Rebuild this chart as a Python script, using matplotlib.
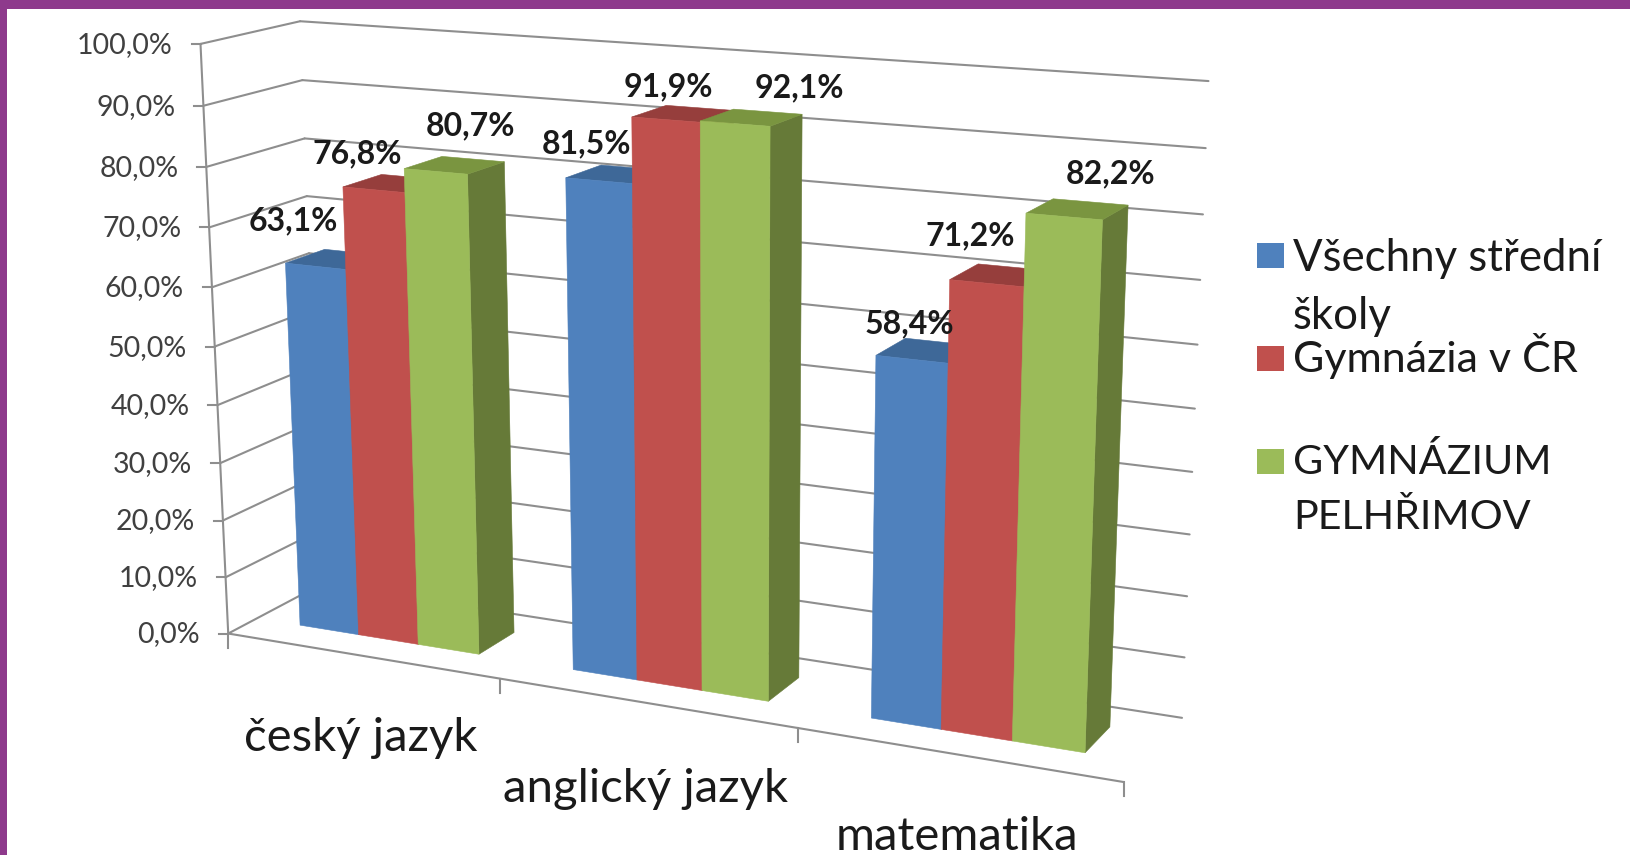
import numpy as np
import matplotlib
matplotlib.use("Agg")
import matplotlib.pyplot as plt
from matplotlib.patches import Polygon, Rectangle

plt.rcParams['font.family'] = ['Lato', 'DejaVu Sans']

categories = ["český jazyk", "anglický jazyk", "matematika"]
series = ["Všechny střední\nškoly", "Gymnázia v ČR", "GYMNÁZIUM\nPELHŘIMOV"]
vsechny = [63.1, 81.5, 58.4]
gymnazia = [76.8, 91.9, 71.2]
pelhrimov = [80.7, 92.1, 82.2]
value_ticks = [0, 10, 20, 30, 40, 50, 60, 70, 80, 90, 100]

front_cols = ["#4F81BD", "#C0504D", "#9BBB59"]
top_cols = ["#3E6898", "#963E3C", "#7A9540"]
side_cols = ["#3A5F8C", "#8C3A38", "#667A38"]
grid_col = "#8E8E8E"
W, H = 1631, 855

# camera fit: world (category, depth, value) -> picture pixels
world = [(0, 0, 0), (0, 0, 100), (0, 1, 100), (0, 1, 0), (3, 1, 100),
         (3, 1, 0), (3, 0, 0), (1, 0, 0), (2, 0, 0), (3, 1, 50)]
pixels = [(228, 633), (201, 44), (300, 21), (322, 583), (1208, 80),
          (1182, 718), (1125, 780), (500, 682), (797, 727), (1195, 411)]
rows, rhs = [], []
for (X, Y, Z), (u, v) in zip(world, pixels):
    z = Z / 100
    rows.append([X, Y, z, 1, 0, 0, 0, 0, -u * X, -u * Y, -u * z])
    rhs.append(u)
    rows.append([0, 0, 0, 0, X, Y, z, 1, -v * X, -v * Y, -v * z])
    rhs.append(v)
cam = np.linalg.lstsq(np.array(rows, float), np.array(rhs, float), rcond=None)[0]
cam = np.append(cam, 1).reshape(3, 4)


def proj(X, Y, Z):
    a = cam @ np.array([X, Y, Z / 100, 1])
    return a[:2] / a[2]


def face(ax, pts, color, zorder=3):
    ax.add_patch(Polygon([proj(*p) for p in pts], closed=True, facecolor=color,
                         edgecolor=color, linewidth=0.4, zorder=zorder))


def seg(ax, a, b, **kw):
    a, b = proj(*a), proj(*b)
    ax.plot([a[0], b[0]], [a[1], b[1]], color=grid_col, lw=1.5, solid_capstyle='round', **kw)


fig = plt.figure(figsize=(W / 100, H / 100), dpi=100, facecolor="#8E3A8C")
ax = fig.add_axes([0, 0, 1, 1])
ax.set_xlim(0, W)
ax.set_ylim(H, 0)
ax.axis("off")
ax.add_patch(Rectangle((7, 9), W, H, facecolor="white", edgecolor="none", zorder=0))

# walls
for v in value_ticks:
    seg(ax, (0, 0, v), (0, 1, v), zorder=1)
    seg(ax, (0, 1, v), (3, 1, v), zorder=1)
    x, y = proj(0, 0, v)
    ax.plot([x - 9, x], [y, y], color=grid_col, lw=1.5, zorder=1)
    ax.text(x - 28, y + 1, f"{v},0%", ha="right", va="center", fontsize=20.5, color="#404040")
seg(ax, (0, 0, 0), (0, 0, 100), zorder=1)
seg(ax, (0, 0, 0), (3, 0, 0), zorder=1)
for i in range(4):
    x, y = proj(i, 0, 0)
    ax.plot([x, x], [y, y + 14], color=grid_col, lw=1.5, zorder=1)

# bars
bar_w = 0.2215
offset = 0.165
y0, y1 = 0.30, 0.71
label_off = [[(-42, -38), (-36, -30), (16, -39)],
             [(-30, -30), (-15, -27), (48, -30)],
             [(-17, -27), (-30, -39), (33, -35)]]
for c, vals in enumerate(zip(vsechny, gymnazia, pelhrimov)):
    for s, v in enumerate(vals):
        x0 = c + offset + s * bar_w
        x1 = x0 + bar_w
        zo = 3 + c * 3 + s * 0.1
        face(ax, [(x1, y0, 0), (x1, y1, 0), (x1, y1, v), (x1, y0, v)], side_cols[s], zo)
        face(ax, [(x0, y0, v), (x1, y0, v), (x1, y1, v), (x0, y1, v)], top_cols[s], zo)
        face(ax, [(x0, y0, 0), (x1, y0, 0), (x1, y0, v), (x0, y0, v)], front_cols[s], zo)
        tx, ty = proj((x0 + x1) / 2, (y0 + y1) / 2, v)
        dx, dy = label_off[c][s]
        ax.text(tx + dx, ty + dy, f"{v:.1f}%".replace(".", ","), ha="center", va="center",
                fontsize=23, fontweight="bold", color="#1A1A1A", zorder=20)

# category labels
cat_pos = [(361, 751), (646, 802), (957, 850)]
for name, (x, y) in zip(categories, cat_pos):
    ax.text(x, y, name, ha="center", va="baseline", fontsize=34, color="#1A1A1A")

# legend
leg_y = [255, 359, 461]
txt_y = [238, 333, 443]
txt_size = [31.5, 31, 29.7]
txt_space = [1.5, 1.5, 1.59]
for name, col, y, ty, fs, ls in zip(series, front_cols, leg_y, txt_y, txt_size, txt_space):
    ax.add_patch(Rectangle((1257, y - 12.5), 27, 25, facecolor=col, edgecolor="none"))
    ax.text(1293, ty, name, ha="left", va="top", fontsize=fs, color="#1A1A1A", linespacing=ls)

fig.savefig("out.png", dpi=100, facecolor=fig.get_facecolor())
